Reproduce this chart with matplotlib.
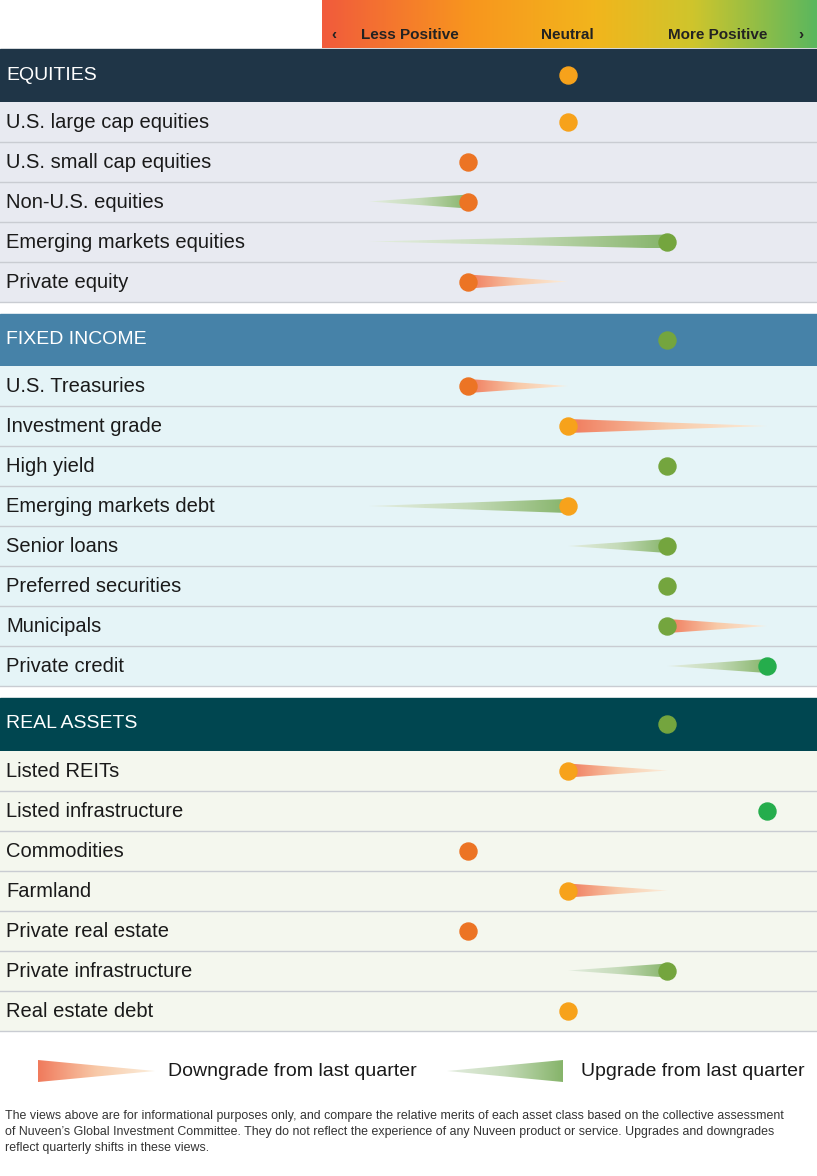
import numpy as np
import matplotlib.pyplot as plt
from matplotlib.patches import Rectangle, Polygon
from matplotlib.colors import LinearSegmentedColormap

plt.rcParams['font.family'] = 'Liberation Sans'

# data: (label, current level, previous level) ; levels 1..5
sections = ['EQUITIES', 'FIXED INCOME', 'REAL ASSETS']
section_levels = [3, 4, 4]
equities = ['U.S. large cap equities', 'U.S. small cap equities', 'Non-U.S. equities',
            'Emerging markets equities', 'Private equity']
equities_now = [3, 2, 2, 4, 2]
equities_prev = [3, 2, 1, 1, 3]
fixed = ['U.S. Treasuries', 'Investment grade', 'High yield', 'Emerging markets debt',
         'Senior loans', 'Preferred securities', 'Municipals', 'Private credit']
fixed_now = [2, 3, 4, 3, 4, 4, 4, 5]
fixed_prev = [3, 5, 4, 1, 3, 4, 5, 4]
real = ['Listed REITs', 'Listed infrastructure', 'Commodities', 'Farmland',
        'Private real estate', 'Private infrastructure', 'Real estate debt']
real_now = [3, 5, 2, 3, 2, 4, 3]
real_prev = [4, 5, 2, 4, 2, 3, 3]

W, H = 817, 1176
fig = plt.figure(figsize=(W / 100, H / 100), dpi=100)
ax = fig.add_axes([0, 0, 1, 1])
ax.set_xlim(0, W)
ax.set_ylim(H, 0)
ax.axis('off')

def lx(level):
    return 369 + (level - 1) * 99.5

dot_colors = {1: '#e0542a', 2: '#ec7424', 3: '#f7a21b', 4: '#74a53e', 5: '#25ad4c'}
down_cmap = LinearSegmentedColormap.from_list('d', ['#f07a5c', '#f8c9a8', '#fbeedc'])
up_cmap = LinearSegmentedColormap.from_list('u', ['#e4ede0', '#c5dbb9', '#86b46a'])

def wedge(x_tip, x_wide, y, half=7):
    poly = Polygon([(x_tip, y), (x_wide, y - half), (x_wide, y + half)], closed=True,
                   facecolor='none', edgecolor='none')
    ax.add_patch(poly)
    lo, hi = min(x_tip, x_wide), max(x_tip, x_wide)
    grad = np.linspace(0, 1, 256)[None, :]
    cmap = down_cmap if x_wide < x_tip else up_cmap
    img = ax.imshow(grad, cmap=cmap, extent=[lo, hi, y + half, y - half],
                    aspect='auto', zorder=3)
    img.set_clip_path(poly)

# top scale bar
grad = np.linspace(0, 1, 512)[None, :]
scale_cmap = LinearSegmentedColormap.from_list(
    's', [(0, '#f15b3c'), (0.3, '#f8961e'), (0.55, '#f2b51c'), (0.75, '#cfc52c'), (1, '#5bb75e')])
ax.imshow(grad, cmap=scale_cmap, extent=[322, W, 48, 0], aspect='auto', zorder=1)
ax.text(331, 35, '‹', fontsize=11, fontweight='bold', color='#222', va='center')
ax.text(361, 35, 'Less Positive', fontsize=11, fontweight='bold', color='#222', va='center')
ax.text(567, 35, 'Neutral', fontsize=11, fontweight='bold', color='#222', va='center', ha='center')
ax.text(767, 35, 'More Positive', fontsize=11, fontweight='bold', color='#222', va='center', ha='right')
ax.text(798, 35, '›', fontsize=11, fontweight='bold', color='#222', va='center')

header_colors = ['#1f3547', '#4682a8', '#004650']
row_colors = ['#e8eaf1', '#e5f4f7', '#f4f7ee']
groups = [(equities, equities_now, equities_prev), (fixed, fixed_now, fixed_prev),
          (real, real_now, real_prev)]

y = 49
for s, (labels, now, prev) in enumerate(groups):
    ax.add_patch(Rectangle((0, y), W, 52.5, color=header_colors[s], zorder=1))
    cy = y + 26
    ax.text(6, cy, sections[s], fontsize=14, color='white', va='center')
    ax.scatter([lx(section_levels[s])], [cy], s=150, color=dot_colors[section_levels[s]], zorder=5)
    y += 52.5
    for lab, n, p in zip(labels, now, prev):
        ax.add_patch(Rectangle((0, y), W, 40, facecolor=row_colors[s], edgecolor='none', zorder=1))
        ax.plot([0, W], [y + 40, y + 40], color='#c9ccd2', lw=1, zorder=2)
        cy = y + 20
        ax.text(6, cy + 1, lab, fontsize=14.5, color='#1a1a1a', va='center')
        if p != n:
            wedge(lx(p), lx(n), cy)
        ax.scatter([lx(n)], [cy], s=150, color=dot_colors[n], zorder=5)
        y += 40
    y += 12

# legend
wedge(155, 38, 1071, 11)
ax.text(168, 1071, 'Downgrade from last quarter', fontsize=14, color='#1a1a1a', va='center')
wedge(447, 563, 1071, 11)
ax.text(581, 1071, 'Upgrade from last quarter', fontsize=14, color='#1a1a1a', va='center')

foot = ("The views above are for informational purposes only, and compare the relative merits of each asset class based on the collective assessment\n"
        "of Nuveen\u2019s Global Investment Committee. They do not reflect the experience of any Nuveen product or service. Upgrades and downgrades\n"
        "reflect quarterly shifts in these views.")
ax.text(5, 1110, foot, fontsize=8.9, color='#333333', va='top', linespacing=1.45)

fig.savefig('out.png', dpi=100)
